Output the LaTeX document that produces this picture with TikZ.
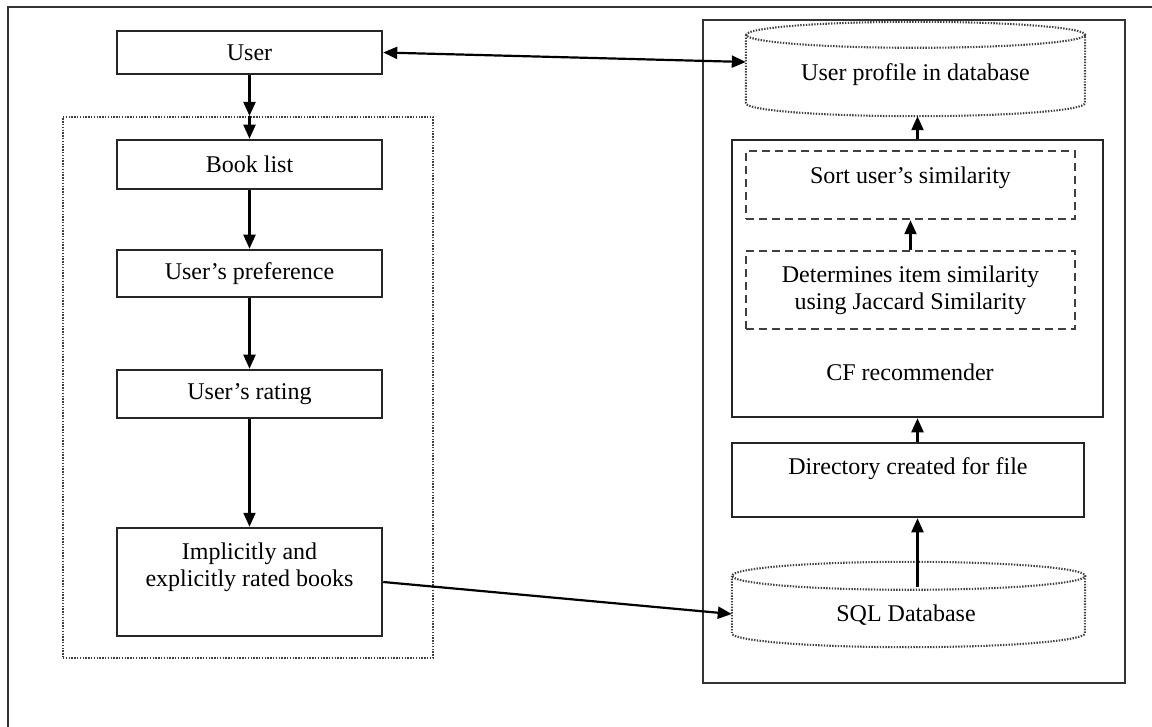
\documentclass[tikz,border=0pt]{standalone}
\usepackage{fontspec}
\setmainfont{Liberation Serif}
\usetikzlibrary{arrows.meta,calc}
\newcommand\drawcyl[3]{%
  \draw[dotbox] ([yshift=-#3pt]#1.north west) -- ([yshift=#3pt]#1.south west)
    arc[start angle=180,end angle=360,x radius=#2pt,y radius=#3pt]
    -- ([yshift=-#3pt]#1.north east)
    arc[start angle=0,end angle=180,x radius=#2pt,y radius=#3pt]
    arc[start angle=180,end angle=360,x radius=#2pt,y radius=#3pt];}
\begin{document}
\begin{tikzpicture}[x=1pt,y=1pt,
  txt/.style={font=\fontsize{24}{27}\selectfont, align=center, inner sep=0pt, text=black},
  solidbox/.style={draw=black!85, line width=2.5pt, inner sep=0pt},
  dashbox/.style={draw=black!75, line width=2.5pt, dash pattern=on 8pt off 5pt, inner sep=0pt},
  dotbox/.style={draw=black!75, line width=2.1pt, dash pattern=on 1.4pt off 1.4pt, inner sep=0pt},
  framebox/.style={draw=black!80, line width=2.6pt, inner sep=0pt},
  arr/.style={-{Triangle[length=14pt,width=12pt]}, line width=2.2pt, black},
  darr/.style={{Triangle[length=14pt,width=12pt]}-{Triangle[length=14pt,width=12pt]}, line width=2.2pt, black},
]
\useasboundingbox (0,0) rectangle (1152,-727);
\draw[line width=2.6pt, black!80] (1152,-7) -- (8,-7) -- (8,-727);

% left column
\node[dotbox, minimum width=370pt, minimum height=541pt] (cont) at (248,-387.5) {};
\node[solidbox, txt, minimum width=265pt, minimum height=43pt] (user) at (249.5,-52.5) {User};
\node[solidbox, txt, minimum width=265pt, minimum height=49pt] (book) at (249.5,-164.5) {Book list};
\node[solidbox, txt, minimum width=265pt, minimum height=47pt] (pref) at (249.5,-273.5) {User’s preference};
\node[solidbox, txt, minimum width=265pt, minimum height=48pt] (rate) at (249.5,-394) {User’s rating};
\node[solidbox, minimum width=265pt, minimum height=108pt] (impl) at (249.5,-582) {};
\node[txt] (impltxt) at (249.5,-567) {Implicitly and\\explicitly rated books};

% right column
\node[framebox, minimum width=422pt, minimum height=663pt] (rframe) at (914,-351.5) {};
\node[minimum width=339pt, minimum height=94pt, inner sep=0pt] (upc) at (915.5,-69) {};
\drawcyl{upc}{169.5}{13}
\node[txt] (upctxt) at (915.5,-75) {User profile in database};
\node[solidbox, minimum width=371pt, minimum height=277pt] (cf) at (917.5,-278.5) {};
\node[txt] (cftxt) at (910,-372) {CF recommender};
\node[dashbox, minimum width=329pt, minimum height=68pt] (sort) at (910.5,-185) {};
\node[txt] (sorttxt) at (910.5,-178) {Sort user’s similarity};
\node[dashbox, txt, minimum width=329pt, minimum height=78pt] (det) at (910.5,-290) {Determines item similarity\\using Jaccard Similarity};
\node[solidbox, minimum width=352pt, minimum height=74pt] (dir) at (908,-480) {};
\node[txt] (dirtxt) at (908,-469) {Directory created for file};
\node[minimum width=353pt, minimum height=85pt, inner sep=0pt] (sql) at (908.5,-604.5) {};
\drawcyl{sql}{176.5}{14}
\node[txt] (sqltxt) at (906,-615) {SQL Database};

% connectors
\coordinate (sqlout) at ([yshift=-25pt]sql.north -| cf.center);
\coordinate (dirin) at (cf.center |- dir.south);
\coordinate (dirout) at (cf.center |- dir.north);
\coordinate (contin) at (user.south |- cont.north);
\draw[darr] (user.east) -- ([yshift=7pt]upc.west);
\draw[arr] (user.south) -- (contin);
\draw[arr] (contin) -- (book.north);
\draw[arr] (book.south) -- (pref.north);
\draw[arr] (pref.south) -- (rate.north);
\draw[arr] (rate.south) -- (impl.north);
\draw[arr] (impl.east) -- ([yshift=-9.5pt]sql.west);
\draw[arr] (sqlout) -- (dirin);
\draw[arr] (dirout) -- (cf.south);
\draw[arr] (cf.north) -- (cf.north |- upc.south);
\draw[arr] (det.north) -- (sort.south);
\end{tikzpicture}
\end{document}
